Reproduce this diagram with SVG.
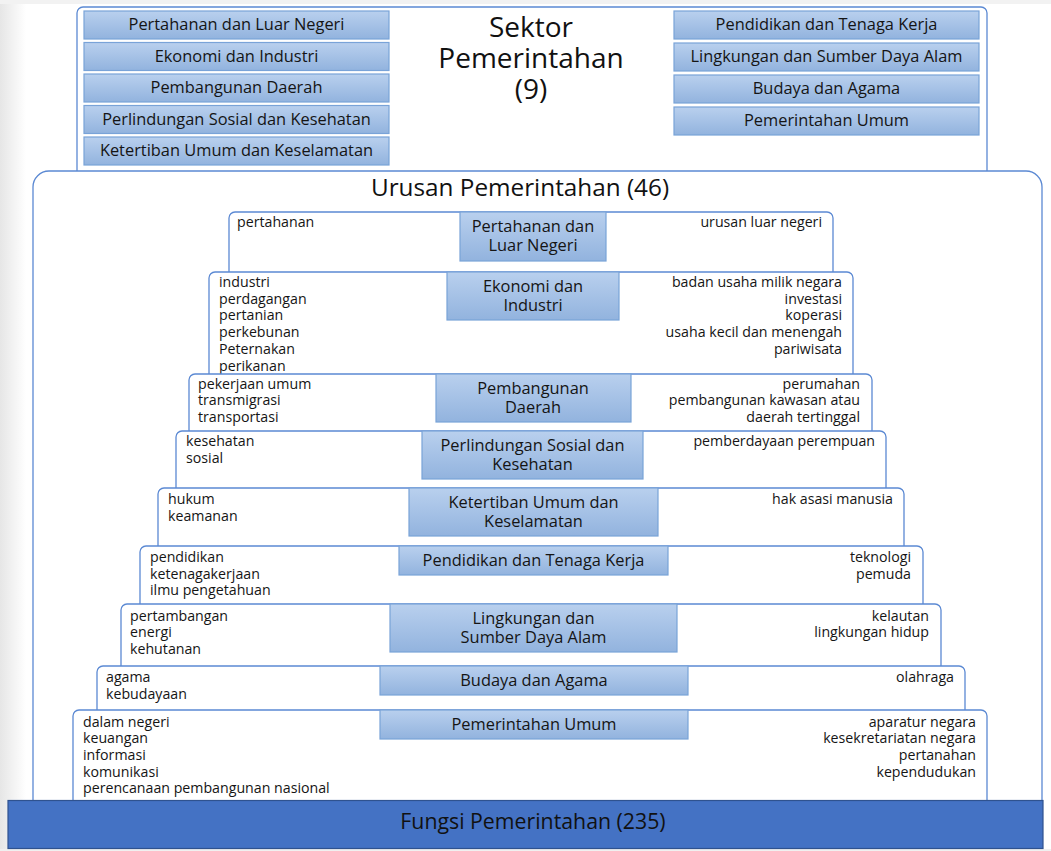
<svg xmlns="http://www.w3.org/2000/svg" width="1051" height="851" viewBox="0 0 1051 851">
  <defs>
    <linearGradient id="hdrFill" x1="0" y1="0" x2="0" y2="1">
      <stop offset="0" stop-color="#b9d0ee"/>
      <stop offset="1" stop-color="#92b3de"/>
    </linearGradient>
    <linearGradient id="edgeShade" x1="0" y1="0" x2="1" y2="0">
      <stop offset="0" stop-color="#e6e6e6"/>
      <stop offset="1" stop-color="#ffffff"/>
    </linearGradient>
    <style>
      .frame { fill: #ffffff; stroke: #5b89d3; stroke-width: 1.3; }
      .tier { fill: #ffffff; stroke: #5b89d3; stroke-width: 1.3; }
      .hdr { fill: url(#hdrFill); stroke: #79a3d8; stroke-width: 1.2; }
      .hdrTxt { font-family: "Open Sans", "Liberation Sans", sans-serif; font-size: 16.4px; fill: #151515; text-anchor: middle; }
      .item { font-family: "Open Sans", "Liberation Sans", sans-serif; font-size: 14.2px; fill: #151515; }
      .right { text-anchor: end; }
      .title { font-family: "Open Sans", "Liberation Sans", sans-serif; fill: #111111; text-anchor: middle; }
    </style>
  </defs>

  <!-- page background -->
  <rect x="0" y="0" width="1051" height="851" fill="#ffffff"/>
  <rect x="0" y="0" width="26" height="851" fill="url(#edgeShade)"/>
  <rect x="0" y="0" width="1051" height="4" fill="#f2f2f2"/>

  <!-- sector frame -->
  <g id="sektor">
    <rect class="frame" x="77" y="7" width="910" height="185" rx="6"/>
    <text class="title" font-size="28" x="531" y="37">Sektor</text>
    <text class="title" font-size="28" x="531" y="68">Pemerintahan</text>
    <text class="title" font-size="28" x="531" y="99">(9)</text>
  </g>

  <g id="sektor-list-left">
    <rect class="hdr" x="84" y="11" width="305" height="28"/>
    <text class="hdrTxt" x="236.5" y="30">Pertahanan dan Luar Negeri</text>
    <rect class="hdr" x="84" y="42.5" width="305" height="28"/>
    <text class="hdrTxt" x="236.5" y="61.5">Ekonomi dan Industri</text>
    <rect class="hdr" x="84" y="74" width="305" height="28"/>
    <text class="hdrTxt" x="236.5" y="93">Pembangunan Daerah</text>
    <rect class="hdr" x="84" y="105.5" width="305" height="28"/>
    <text class="hdrTxt" x="236.5" y="124.5">Perlindungan Sosial dan Kesehatan</text>
    <rect class="hdr" x="84" y="137" width="305" height="28"/>
    <text class="hdrTxt" x="236.5" y="156">Ketertiban Umum dan Keselamatan</text>
  </g>

  <g id="sektor-list-right">
    <rect class="hdr" x="674" y="11" width="305" height="28"/>
    <text class="hdrTxt" x="826.5" y="30">Pendidikan dan Tenaga Kerja</text>
    <rect class="hdr" x="674" y="43" width="305" height="28"/>
    <text class="hdrTxt" x="826.5" y="62">Lingkungan dan Sumber Daya Alam</text>
    <rect class="hdr" x="674" y="75" width="305" height="28"/>
    <text class="hdrTxt" x="826.5" y="94">Budaya dan Agama</text>
    <rect class="hdr" x="674" y="107" width="305" height="28"/>
    <text class="hdrTxt" x="826.5" y="126">Pemerintahan Umum</text>
  </g>

  <!-- affairs frame -->
  <g id="urusan">
    <rect class="frame" x="33" y="171" width="1009" height="660" rx="16"/>
    <text class="title" font-size="24.3" x="520" y="196">Urusan Pemerintahan (46)</text>
  </g>

  <!-- stacked tiers, each one drawn over the lower edge of the previous -->
  <g id="tier-1">
    <rect class="tier" x="229" y="212" width="604" height="80" rx="6"/>
    <rect class="hdr" x="460" y="212" width="146" height="49"/>
    <text class="hdrTxt" x="533" y="232">Pertahanan dan</text>
    <text class="hdrTxt" x="533" y="251">Luar Negeri</text>
    <text class="item" x="237" y="227">pertahanan</text>
    <text class="item right" x="822" y="227">urusan luar negeri</text>
  </g>

  <g id="tier-2">
    <rect class="tier" x="209" y="272" width="644" height="120" rx="6"/>
    <rect class="hdr" x="447" y="272" width="172" height="48"/>
    <text class="hdrTxt" x="533" y="292">Ekonomi dan</text>
    <text class="hdrTxt" x="533" y="311">Industri</text>
    <text class="item" x="219" y="287">industri</text>
    <text class="item" x="219" y="303.7">perdagangan</text>
    <text class="item" x="219" y="320.4">pertanian</text>
    <text class="item" x="219" y="337.1">perkebunan</text>
    <text class="item" x="219" y="353.8">Peternakan</text>
    <text class="item" x="219" y="370.5">perikanan</text>
    <text class="item right" x="842" y="287">badan usaha milik negara</text>
    <text class="item right" x="842" y="303.7">investasi</text>
    <text class="item right" x="842" y="320.4">koperasi</text>
    <text class="item right" x="842" y="337.1">usaha kecil dan menengah</text>
    <text class="item right" x="842" y="353.8">pariwisata</text>
  </g>

  <g id="tier-3">
    <rect class="tier" x="189" y="374" width="683" height="80" rx="6"/>
    <rect class="hdr" x="436" y="374" width="195" height="48"/>
    <text class="hdrTxt" x="533" y="394">Pembangunan</text>
    <text class="hdrTxt" x="533" y="413">Daerah</text>
    <text class="item" x="198" y="388.5">pekerjaan umum</text>
    <text class="item" x="198" y="405.2">transmigrasi</text>
    <text class="item" x="198" y="421.9">transportasi</text>
    <text class="item right" x="860" y="388.5">perumahan</text>
    <text class="item right" x="860" y="405.2">pembangunan kawasan atau</text>
    <text class="item right" x="860" y="421.9">daerah tertinggal</text>
  </g>

  <g id="tier-4">
    <rect class="tier" x="176" y="431" width="710" height="80" rx="6"/>
    <rect class="hdr" x="422" y="431" width="221" height="48"/>
    <text class="hdrTxt" x="532.5" y="451">Perlindungan Sosial dan</text>
    <text class="hdrTxt" x="532.5" y="470">Kesehatan</text>
    <text class="item" x="186" y="446">kesehatan</text>
    <text class="item" x="186" y="462.7">sosial</text>
    <text class="item right" x="875" y="446">pemberdayaan perempuan</text>
  </g>

  <g id="tier-5">
    <rect class="tier" x="158" y="488" width="746" height="80" rx="6"/>
    <rect class="hdr" x="409" y="488" width="249" height="48"/>
    <text class="hdrTxt" x="533.5" y="508">Ketertiban Umum dan</text>
    <text class="hdrTxt" x="533.5" y="527">Keselamatan</text>
    <text class="item" x="168" y="504">hukum</text>
    <text class="item" x="168" y="520.7">keamanan</text>
    <text class="item right" x="893" y="504">hak asasi manusia</text>
  </g>

  <g id="tier-6">
    <rect class="tier" x="140" y="546" width="783" height="80" rx="6"/>
    <rect class="hdr" x="399" y="546" width="269" height="29"/>
    <text class="hdrTxt" x="533.5" y="566">Pendidikan dan Tenaga Kerja</text>
    <text class="item" x="150" y="562">pendidikan</text>
    <text class="item" x="150" y="578.7">ketenagakerjaan</text>
    <text class="item" x="150" y="595.4">ilmu pengetahuan</text>
    <text class="item right" x="911" y="562">teknologi</text>
    <text class="item right" x="911" y="578.7">pemuda</text>
  </g>

  <g id="tier-7">
    <rect class="tier" x="121" y="604" width="820" height="80" rx="6"/>
    <rect class="hdr" x="390" y="604" width="287" height="48"/>
    <text class="hdrTxt" x="533.5" y="624">Lingkungan dan</text>
    <text class="hdrTxt" x="533.5" y="643">Sumber Daya Alam</text>
    <text class="item" x="130" y="620.5">pertambangan</text>
    <text class="item" x="130" y="637.2">energi</text>
    <text class="item" x="130" y="653.9">kehutanan</text>
    <text class="item right" x="929" y="620.5">kelautan</text>
    <text class="item right" x="929" y="637.2">lingkungan hidup</text>
  </g>

  <g id="tier-8">
    <rect class="tier" x="97" y="666" width="868" height="80" rx="6"/>
    <rect class="hdr" x="380" y="666" width="308" height="29"/>
    <text class="hdrTxt" x="534" y="686">Budaya dan Agama</text>
    <text class="item" x="106" y="682">agama</text>
    <text class="item" x="106" y="698.7">kebudayaan</text>
    <text class="item right" x="954" y="682">olahraga</text>
  </g>

  <g id="tier-9">
    <rect class="tier" x="73" y="710" width="914" height="110" rx="6"/>
    <rect class="hdr" x="380" y="710" width="308" height="29"/>
    <text class="hdrTxt" x="534" y="730">Pemerintahan Umum</text>
    <text class="item" x="83" y="726.5">dalam negeri</text>
    <text class="item" x="83" y="743.2">keuangan</text>
    <text class="item" x="83" y="759.9">informasi</text>
    <text class="item" x="83" y="776.6">komunikasi</text>
    <text class="item" x="83" y="793.3">perencanaan pembangunan nasional</text>
    <text class="item right" x="976" y="726.5">aparatur negara</text>
    <text class="item right" x="976" y="743.2">kesekretariatan negara</text>
    <text class="item right" x="976" y="759.9">pertanahan</text>
    <text class="item right" x="976" y="776.6">kependudukan</text>
  </g>

  <!-- function base bar -->
  <g id="fungsi">
    <rect x="0" y="849" width="1051" height="2" fill="#f0f0f0"/>
    <rect x="8" y="800.5" width="1035" height="48" fill="#4472c4" stroke="#2f528f" stroke-width="1.2"/>
    <text class="title" font-size="21.3" x="533" y="829">Fungsi Pemerintahan (235)</text>
  </g>
</svg>
